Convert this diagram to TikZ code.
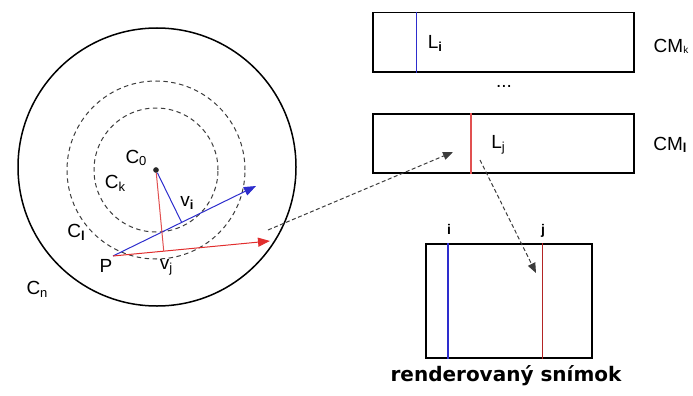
\documentclass[tikz,border=0pt]{standalone}
\usepackage{fontspec}
\setmainfont{Liberation Sans}
\newfontfamily\capfont{DejaVu Sans}
\usetikzlibrary{arrows.meta,calc}
\definecolor{myblue}{RGB}{45,45,205}
\definecolor{myred}{RGB}{225,45,45}
\definecolor{lred}{RGB}{225,80,80}
\definecolor{dgray}{RGB}{60,60,60}
\newcommand{\lsub}[2][3pt]{\raisebox{-#1}{\fontsize{13}{13}\selectfont #2}}
\begin{document}
\begin{tikzpicture}[x=1pt,y=-1pt,
  lab/.style={font=\fontsize{19}{22}\selectfont, inner sep=0pt},
  small/.style={font=\bfseries\fontsize{14}{16}\selectfont, inner sep=0pt},
  dcirc/.style={dgray, dash pattern=on 4.5pt off 3.5pt, line width=1pt},
  frame/.style={draw, line width=1.5pt, minimum width=261pt, minimum height=59pt, anchor=north west, inner sep=0pt},
  darrow/.style={dgray, dash pattern=on 4pt off 2.5pt, line width=1pt, -{Triangle[length=10pt,width=8pt]}},
  varrow/.style={line width=1pt, -{Triangle[length=12pt,width=9pt]}}]
\useasboundingbox (0,0) rectangle (693,396);
% circles
\coordinate (O) at (157,167);
\node[circle, fill=black!85, inner sep=2pt] (c0) at (156,170) {};
\draw[line width=1.5pt] (O) circle[radius=139pt];
\draw[dcirc] (c0) circle[radius=89pt];
\draw[dcirc] (c0) circle[radius=62pt];
% vectors
\coordinate (P) at (113,256);
\coordinate (bt) at (256,186);
\coordinate (rt) at (270,241);
\draw[myblue, varrow] (P) -- (bt);
\draw[myred, varrow] (P) -- (rt);
\coordinate (fi) at ($(P)!(c0)!(bt)$);
\coordinate (fj) at ($(P)!(c0)!(rt)$);
\draw[myblue, line width=1pt] (c0) -- (fi);
\draw[lred, line width=1pt] (c0) -- (fj);
% labels
\node[lab] (lc0) at (136,158) {C\lsub[2pt]{0}};
\node[lab] (lck) at (115,183) {C\lsub{k}};
\node[lab] (lvi) at (187,203) {v\lsub{\bfseries i}};
\node[lab] (lcl) at (76,232) {C\lsub{\bfseries l}};
\node[lab] (lp) at (106,266) {P};
\node[lab] (lvj) at (166,267) {v\lsub{j}};
\node[lab] (lcn) at (37,289) {C\lsub{n}};
% camera maps
\node[frame] (cmk) at (372,12) {};
\node[frame] (cml) at (372,113) {};
\draw[myblue, line width=1pt] ($(cmk.north west)+(44,0)$) -- ($(cmk.south west)+(44,0)$);
\draw[lred, line width=1.2pt] ($(cml.north west)+(99,0)$) -- ($(cml.south west)+(99,0)$);
\node[lab] (li) at (435,43) {L\lsub{\bfseries i}};
\node[lab] (lj) at (498,145) {L\lsub{j}};
\node[lab] (lcmk) at (671,46) {CM\lsub[1pt]{\fontsize{10}{10}\selectfont k}};
\node[lab] (lcml) at (670,145) {CM\lsub[2pt]{\bfseries l}};
\node[lab] (dots) at (504,86) {...};
% rendered frame
\node[draw, line width=1.5pt, minimum width=166pt, minimum height=114pt, anchor=north west, inner sep=0pt] (rf) at (425,243) {};
\draw[myblue, line width=1.3pt] ($(rf.north west)+(23,0)$) -- ($(rf.south west)+(23,0)$);
\draw[myred!80!black, line width=1pt] ($(rf.north west)+(117,0)$) -- ($(rf.south west)+(117,0)$);
\node[small] (ti) at (449,229) {i};
\node[small] (tj) at (543,231) {j};
\node[font=\capfont\bfseries\fontsize{20}{24}\selectfont, inner sep=0pt] (cap) at (506,376) {renderovaný snímok};
% dashed arrows
\coordinate (a1s) at (268,230);
\coordinate (a1e) at (453,152);
\coordinate (a2s) at (480,160);
\coordinate (a2e) at (536,273);
\draw[darrow] (a1s) -- (a1e);
\draw[darrow] (a2s) -- (a2e);
\end{tikzpicture}
\end{document}
